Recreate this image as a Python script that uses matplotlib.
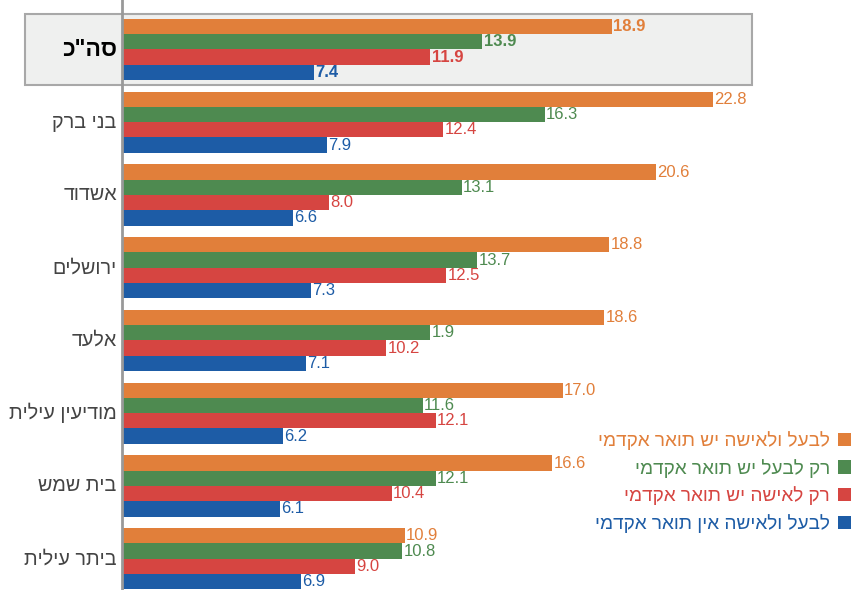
import matplotlib
matplotlib.use('Agg')
import matplotlib.pyplot as plt
from matplotlib.patches import Patch, Rectangle

plt.rcParams['font.family'] = ['Liberation Sans', 'DejaVu Sans']

# ערים (מלמעלה למטה)
cities = ['סה"כ', 'בני ברק', 'אשדוד', 'ירושלים', 'אלעד', 'מודיעין עילית', 'בית שמש', 'ביתר עילית']

# סדרות
both_academic = [18.9, 22.8, 20.6, 18.8, 18.6, 17.0, 16.6, 10.9]
husband_only = [13.9, 16.3, 13.1, 13.7, 11.9, 11.6, 12.1, 10.8]
wife_only = [11.9, 12.4, 8.0, 12.5, 10.2, 12.1, 10.4, 9.0]
none_academic = [7.4, 7.9, 6.6, 7.3, 7.1, 6.2, 6.1, 6.9]

series_names = ['לבעל ולאישה יש תואר אקדמי', 'רק לבעל יש תואר אקדמי',
                'רק לאישה יש תואר אקדמי', 'לבעל ולאישה אין תואר אקדמי']
# תווית שמוצגת אחרת בתרשים המקורי
label_override = {(4, 1): '1.9'}

colors = ['#E17F3A', '#4E8A50', '#D64541', '#1D5CA6']
series = [both_academic, husband_only, wife_only, none_academic]


def rtl(s):
    # matplotlib מצייר משמאל לימין, לכן הופכים את הסדר
    return s[::-1]


fig = plt.figure(figsize=(8.53, 5.90), dpi=100)
W, H = 853, 590
ax = fig.add_axes([122 / W, 0, 1 - 122 / W, 1])
ax.set_facecolor('none')
ax.set_zorder(2)

# מסגרת אפורה סביב סה"כ
fig.patches.append(Rectangle((25 / W, 1 - 85 / H), (752 - 25) / W, (85 - 14) / H,
                             transform=fig.transFigure, facecolor='#EFF0EF',
                             edgecolor='#A8A8A8', linewidth=1.5, zorder=0))

h = 0.21
for k, (vals, c) in enumerate(zip(series, colors)):
    ys = [i + (k - 1.5) * h for i in range(len(cities))]
    ax.barh(ys, vals, height=h, color=c, zorder=2)
    for i, (y, v) in enumerate(zip(ys, vals)):
        txt = label_override.get((i, k), f'{v:.1f}')
        ax.text(v + 0.05, y, txt, va='center', ha='left', color=c,
                fontsize=12, fontweight='bold' if i == 0 else 'normal', zorder=3)

ax.set_xlim(0, 28.2)
ax.set_ylim(7.43, -0.68)
ax.set_xticks([])
ax.set_yticks([])
for s in ['top', 'right', 'bottom']:
    ax.spines[s].set_visible(False)
ax.spines['left'].set_color('#999999')
ax.spines['left'].set_linewidth(2)

for i, name in enumerate(cities):
    ax.text(-0.2, i, rtl(name), ha='right', va='center',
            fontsize=16.5 if i == 0 else 14.2, fontweight='bold' if i == 0 else 'normal',
            color='black' if i == 0 else '#444444')

handles = [Patch(facecolor=c) for c in colors]
fig.legend(handles, [rtl(n) for n in series_names], loc='upper right',
           bbox_to_anchor=(851 / W, 1 - 431 / H), frameon=False, markerfirst=False,
           fontsize=13.7, labelcolor=colors, handlelength=0.7, handleheight=0.7,
           handletextpad=0.4, labelspacing=0.46, borderaxespad=0, borderpad=0)

fig.savefig('out.png', dpi=100)
